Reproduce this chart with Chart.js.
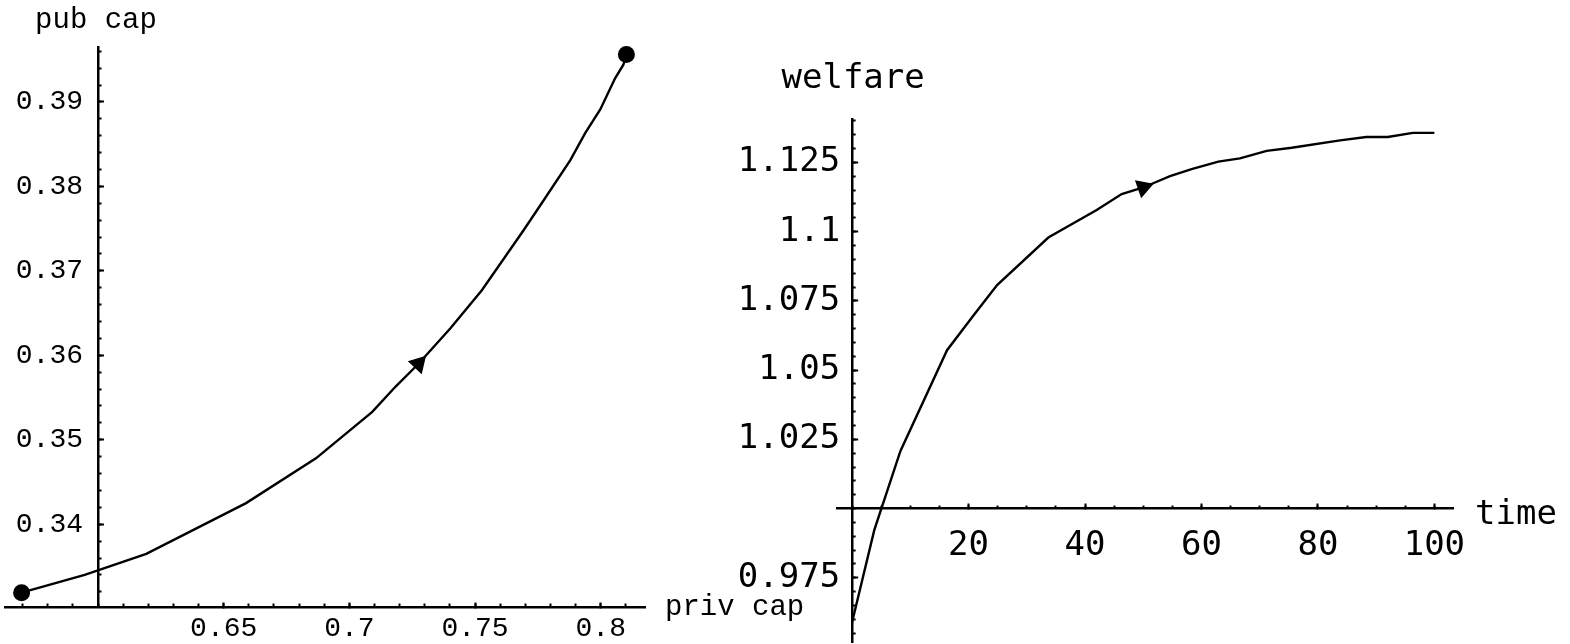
<!DOCTYPE html>
<html lang="en">

<head>
    <meta charset="UTF-8" />
    <title>priv cap / pub cap and welfare</title>
    <script src="https://cdn.jsdelivr.net/npm/chart.js"></script>
    <style>
        body {
            margin: 0;
            background: #fff;
        }

        #wrap {
            position: relative;
            width: 1570px;
            height: 644px;
        }

        canvas {
            position: absolute;
            top: 0;
        }

        #phaseChart {
            left: 0;
        }

        #welfareChart {
            left: 700px;
        }
    </style>
</head>

<body>

    <div id="wrap">
        <canvas id="phaseChart" width="830" height="644"></canvas>
        <canvas id="welfareChart" width="870" height="644"></canvas>
    </div>

    <script>
        // trajectory in the (priv cap, pub cap) plane
        const privCap = [0.5696, 0.5947, 0.6192, 0.6589, 0.6867, 0.7091, 0.7184, 0.7275, 0.7402, 0.7527,
            0.7693, 0.7765, 0.7879, 0.7938, 0.7998, 0.8057, 0.8090, 0.8102];
        const pubCap = [0.3319, 0.3340, 0.3365, 0.3425, 0.3478, 0.3533, 0.3563, 0.3590, 0.3632, 0.3677,
            0.3748, 0.3780, 0.3831, 0.3863, 0.3891, 0.3928, 0.3944, 0.3956];
        const phaseArrowAt = 7;

        // welfare over time
        const time = [0, 3.8, 8.3, 16.3, 20.9, 24.9, 33.7, 42.0, 46.3, 50.0, 51.7, 54.6, 58.3, 62.9,
            66.6, 71.2, 75.5, 83.8, 88.3, 92.0, 96.3, 100];
        const welfare = [0.9590, 0.9922, 1.0208, 1.0572, 1.0699, 1.0807, 1.0979, 1.1078, 1.1136, 1.1160,
            1.1175, 1.1201, 1.1226, 1.1253, 1.1265, 1.1292, 1.1303, 1.1330, 1.1342, 1.1342, 1.1357, 1.1357];
        const welfareArrowAt = 9;

        // tick labels
        const privTicks = [0.65, 0.7, 0.75, 0.8];
        const pubTicks = [0.34, 0.35, 0.36, 0.37, 0.38, 0.39];
        const timeTicks = [20, 40, 60, 80, 100];
        const welfareTicks = [0.975, 1.025, 1.05, 1.075, 1.1, 1.125];

        const MONO = "'Liberation Mono', 'Courier New', monospace";
        const SANS = "'DejaVu Sans Mono', monospace";

        function range(start, end, step) {
            const out = [];
            for (let v = start; v <= end + step / 100; v += step) {
                out.push({ value: Math.round(v * 1e6) / 1e6 });
            }
            return out;
        }

        // the vertical axis sits where the horizontal one has value crossAt
        // (box spans from the canvas edge so the tick labels are not clipped)
        const crossAxis = {
            id: 'crossAxis',
            afterLayout(chart) {
                Object.values(chart.scales).forEach(s => {
                    const at = s.options.crossAt;
                    if (at === undefined || s.isHorizontal()) return;
                    const px = chart.scales.x.getPixelForValue(at);
                    s.left = 0;
                    s.right = px;
                    s.width = px;
                });
            }
        };

        // axis names at the far ends of the axes
        const axisNames = {
            id: 'axisNames',
            afterDraw(chart, args, opts) {
                const { ctx, scales: { x, y } } = chart;
                const axisY = y.getPixelForValue(x.options.position.y);
                ctx.save();
                ctx.fillStyle = '#000';
                ctx.font = opts.font;
                ctx.textBaseline = 'alphabetic';
                ctx.textAlign = 'center';
                ctx.fillText(opts.yName, y.right + opts.yDx, y.top + opts.yDy);
                ctx.textAlign = 'left';
                ctx.fillText(opts.xName, x.right + opts.xDx, axisY + opts.xDy);
                ctx.restore();
            }
        };

        function noFit(scale) {
            if (scale.isHorizontal()) scale.height = 0;
            else scale.width = 0;
            scale.paddingLeft = scale.paddingRight = scale.paddingTop = scale.paddingBottom = 0;
        }

        function arrowAngle(xs, ys, i, chart) {
            const sx = chart.scales.x, sy = chart.scales.y;
            const dx = sx.getPixelForValue(xs[i + 1]) - sx.getPixelForValue(xs[i - 1]);
            const dy = sy.getPixelForValue(ys[i + 1]) - sy.getPixelForValue(ys[i - 1]);
            return Math.atan2(dx, -dy) * 180 / Math.PI;
        }

        function axisPair(opts) {
            // major scale with labels + minor scale with short marks only
            const common = {
                type: 'linear',
                min: opts.min,
                max: opts.max,
                position: opts.position,
                afterFit: noFit,
                grid: { drawOnChartArea: false, drawTicks: true, tickColor: '#000', tickWidth: 2 }
            };
            if (opts.crossAt !== undefined) common.crossAt = opts.crossAt;
            const major = Object.assign({}, common, {
                border: { display: true, color: '#000', width: 2.5 },
                afterBuildTicks: s => { s.ticks = opts.ticks.map(v => ({ value: v })); },
                grid: Object.assign({}, common.grid, { tickLength: -6 }),
                ticks: {
                    includeBounds: false,
                    autoSkip: false,
                    maxRotation: 0,
                    color: '#000',
                    padding: opts.padding,
                    font: opts.font,
                    callback: v => String(v)
                }
            });
            const minor = Object.assign({}, common, {
                border: { display: false },
                afterBuildTicks: s => { s.ticks = range(opts.minorFrom, opts.minorTo, opts.minorStep); },
                grid: Object.assign({}, common.grid, { tickLength: -3.5 }),
                ticks: { display: false, includeBounds: false }
            });
            return [major, minor];
        }

        function makeChart(id, cfg) {
            const [xMajor, xMinor] = axisPair(cfg.x);
            const [yMajor, yMinor] = axisPair(cfg.y);
            const n = cfg.xs.length;
            return new Chart(document.getElementById(id), {
                type: 'line',
                data: {
                    datasets: [{
                        data: cfg.xs.map((v, i) => ({ x: v, y: cfg.ys[i] })),
                        borderColor: '#000',
                        backgroundColor: '#000',
                        borderWidth: 2.4,
                        tension: 0,
                        fill: false,
                        clip: false,
                        pointBorderWidth: 0,
                        pointStyle: c => c.dataIndex === cfg.arrowAt ? 'triangle' : 'circle',
                        pointRadius: c => {
                            if (c.dataIndex === cfg.arrowAt) return 11;
                            if (cfg.endDots && (c.dataIndex === 0 || c.dataIndex === n - 1)) return 8.5;
                            return 0;
                        },
                        pointRotation: c => c.dataIndex === cfg.arrowAt
                            ? arrowAngle(cfg.xs, cfg.ys, c.dataIndex, c.chart) : 0
                    }]
                },
                options: {
                    responsive: false,
                    animation: false,
                    events: [],
                    layout: { autoPadding: false, padding: cfg.padding },
                    plugins: {
                        legend: { display: false },
                        tooltip: { enabled: false },
                        axisNames: cfg.names
                    },
                    scales: { x: xMajor, xm: xMinor, y: yMajor, ym: yMinor }
                },
                plugins: [crossAxis, axisNames]
            });
        }

        makeChart('phaseChart', {
            xs: privCap,
            ys: pubCap,
            arrowAt: phaseArrowAt,
            endDots: true,
            padding: { left: 5, top: 47, right: 185, bottom: 37 },
            x: {
                min: 0.563, max: 0.8176, position: { y: 0.3302 },
                ticks: privTicks, minorFrom: 0.57, minorTo: 0.81, minorStep: 0.01,
                padding: 11, font: { family: MONO, size: 28 }
            },
            y: {
                min: 0.3302, max: 0.3965, position: 'left', crossAt: 0.6,
                ticks: pubTicks, minorFrom: 0.332, minorTo: 0.396, minorStep: 0.002,
                padding: 21, font: { family: MONO, size: 28 }
            },
            names: {
                font: "29px " + MONO,
                yName: 'pub cap', yDx: -2, yDy: -19,
                xName: 'priv cap', xDx: 20, xDy: 8
            }
        });

        makeChart('welfareChart', {
            xs: time,
            ys: welfare,
            arrowAt: welfareArrowAt,
            endDots: false,
            padding: { left: 137, top: 119, right: 117, bottom: 2 },
            x: {
                min: -2.6, max: 103.2, position: { y: 1.0 },
                ticks: timeTicks, minorFrom: 0, minorTo: 100, minorStep: 5,
                padding: 23, font: { family: SANS, size: 34 }
            },
            y: {
                min: 0.9518, max: 1.1407, position: 'left', crossAt: 0,
                ticks: welfareTicks, minorFrom: 0.955, minorTo: 1.14, minorStep: 0.005,
                padding: 18, font: { family: SANS, size: 34 }
            },
            names: {
                font: "34px " + SANS,
                yName: 'welfare', yDx: 1, yDy: -31,
                xName: 'time', xDx: 22, xDy: 15
            }
        });
    </script>
</body>

</html>
